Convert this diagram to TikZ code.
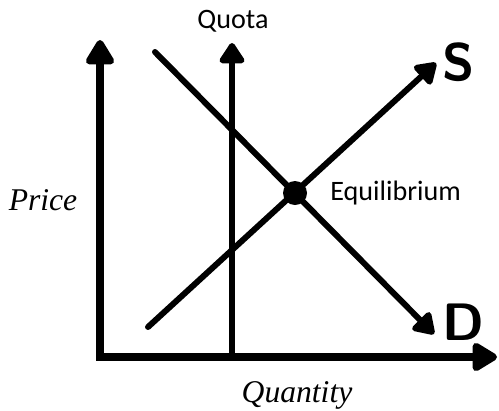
\documentclass[tikz,border=0pt]{standalone}
\usepackage{fontspec}
\setmainfont{Carlito}
\newfontfamily\mathlike{Liberation Serif}
\usetikzlibrary{arrows.meta}
\begin{document}
\begin{tikzpicture}[
  x=0.02cm, y=-0.02cm,
  axis/.style={line width=4.4pt, -{Triangle[round, length=16pt, width=18pt]}},
  curve_line/.style={line width=3.4pt, line cap=round,
                     -{Triangle[round, length=13pt, width=16pt]}},
  label_text/.style={font=\fontsize{16}{18}\selectfont, inner sep=0pt},
  axis_text/.style={font=\mathlike\itshape\fontsize{18}{20}\selectfont, inner sep=0pt},
  hand_text/.style={font=\sffamily\bfseries\fontsize{30}{32}\selectfont, inner sep=0pt},
  eq_dot/.style={circle, fill=black, minimum size=0.48cm, inner sep=0pt}
]
  \useasboundingbox (0, 0) rectangle (499, 410);

  % axes
  \coordinate (origin) at (100, 357);
  \coordinate (ytop)   at (100, 40);
  \coordinate (xend)   at (497, 357);
  \draw[axis] (origin) -- (ytop);
  \draw[axis] ([xshift=-2.2pt]origin) -- (xend);

  % quota
  \coordinate (qbot) at (232, 357);
  \coordinate (qtop) at (232, 43);
  \draw[curve_line, line cap=butt] (qbot) -- (qtop);
  \node[label_text] (quota) at (233, 21) {Quota};

  % demand and supply
  \coordinate (dstart) at (155, 52);
  \coordinate (dend)   at (434, 334);
  \draw[curve_line] (dstart) -- (dend);
  \coordinate (sstart) at (148, 327);
  \coordinate (send)   at (436, 63);
  \draw[curve_line] (sstart) -- (send);

  \node[eq_dot] (eq) at (295, 193) {};
  \node[label_text, anchor=west] (eqlabel) at (330, 193) {Equilibrium};

  \node[hand_text] (slabel) at (459, 62) {S};
  \node[hand_text] (dlabel) at (463, 322) {D};

  % axis names
  \node[axis_text] (price) at (43, 200) {Price};
  \node[axis_text] (qty)   at (297, 395) {Quantity};
\end{tikzpicture}
\end{document}
